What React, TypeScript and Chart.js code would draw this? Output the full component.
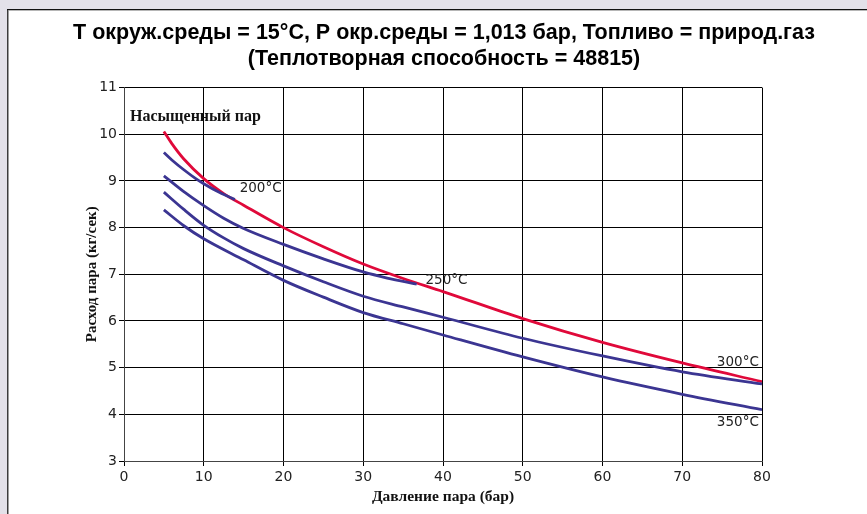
import React, { useEffect, useRef } from "react";
import { Chart, registerables } from "chart.js";

Chart.register(...registerables);

const titleLines = [
  "T окруж.среды = 15°C, P окр.среды = 1,013 бар, Топливо = природ.газ",
  "(Теплотворная способность = 48815)",
];
const xAxisTitle = "Давление пара (бар)";
const yAxisTitle = "Расход пара (кг/сек)";

const saturatedX = [5, 6, 7.5, 10, 12.5, 15, 20, 25, 30, 35, 40, 50, 60, 70, 80];
const saturatedY = [10.06, 9.8, 9.47, 9.05, 8.73, 8.48, 8.0, 7.59, 7.22, 6.91, 6.63, 6.05, 5.54, 5.1, 4.7];

const t200X = [5, 6, 7.5, 9, 10, 12, 13.9];
const t200Y = [9.61, 9.45, 9.24, 9.05, 8.94, 8.75, 8.6];

const t250X = [5, 7.5, 10, 12.5, 15, 20, 25, 30, 33, 36.7];
const t250Y = [9.11, 8.77, 8.47, 8.2, 7.98, 7.64, 7.33, 7.05, 6.92, 6.79];

const t300X = [5, 7.5, 10, 12.5, 15, 20, 25, 30, 35, 40, 50, 60, 70, 80];
const t300Y = [8.76, 8.39, 8.05, 7.78, 7.55, 7.18, 6.84, 6.53, 6.3, 6.08, 5.63, 5.25, 4.91, 4.65];

const t350X = [5, 7.5, 10, 15, 20, 25, 30, 35, 40, 50, 60, 70, 80];
const t350Y = [8.38, 8.04, 7.76, 7.31, 6.87, 6.51, 6.18, 5.94, 5.7, 5.23, 4.8, 4.43, 4.1];

const annotationTexts = ["Насыщенный пар", "200°C", "250°C", "300°C", "350°C"];
const annotationX = [0.75, 14.5, 37.8, 79.6, 79.6];
const annotationY = [10.38, 8.84, 6.86, 5.12, 3.83];

const RED = "#e0093a";
const BLUE = "#3b3592";

const toPoints = (xs: number[], ys: number[]) => xs.map((x, i) => ({ x, y: ys[i] }));

const framePlugin = {
  id: "frame",
  beforeDraw(chart: any) {
    const { ctx, width, height } = chart;
    ctx.save();
    ctx.fillStyle = "#e3e1e9";
    ctx.fillRect(0, 0, width, height);
    ctx.fillStyle = "#ffffff";
    ctx.fillRect(8, 10, width - 8, height - 10);
    ctx.fillStyle = "#3c3c3c";
    ctx.fillRect(7, 9, 1.5, height - 9);
    ctx.fillStyle = "#111111";
    ctx.fillRect(7, 9, width - 7, 1.2);
    ctx.fillStyle = "#b0b0b0";
    ctx.fillRect(8.5, 10.2, width - 8.5, 0.8);
    ctx.restore();
  },
};

const annotationPlugin = {
  id: "curveLabels",
  afterDatasetsDraw(chart: any) {
    const { ctx, scales } = chart;
    ctx.save();
    ctx.textBaseline = "middle";
    annotationTexts.forEach((t, i) => {
      const px = scales.x.getPixelForValue(annotationX[i]);
      const py = scales.y.getPixelForValue(annotationY[i]);
      if (i === 0) {
        ctx.font = "bold 16px 'Liberation Serif'";
        ctx.fillStyle = "#111";
      } else {
        ctx.font = "13.5px 'DejaVu Sans'";
        ctx.fillStyle = "#222";
      }
      ctx.textAlign = i >= 3 ? "right" : "left";
      ctx.fillText(t, px, py);
    });
    ctx.restore();
  },
};

export default function App() {
  const canvasRef = useRef<HTMLCanvasElement | null>(null);

  useEffect(() => {
    if (!canvasRef.current) return;
    const lineDs = (label: string, xs: number[], ys: number[], color: string) => ({
      label,
      data: toPoints(xs, ys),
      borderColor: color,
      backgroundColor: color,
      borderWidth: 2.8,
      pointRadius: 0,
      showLine: true,
      fill: false,
      cubicInterpolationMode: "monotone" as const,
    });
    const chart = new Chart(canvasRef.current, {
      type: "scatter",
      data: {
        datasets: [
          lineDs("200°C", t200X, t200Y, BLUE),
          lineDs("250°C", t250X, t250Y, BLUE),
          lineDs("300°C", t300X, t300Y, BLUE),
          lineDs("350°C", t350X, t350Y, BLUE),
          lineDs("Насыщенный пар", saturatedX, saturatedY, RED),
        ],
      },
      options: {
        animation: false,
        responsive: false,
        devicePixelRatio: 1,
        layout: { padding: { left: 21, right: 0, top: 0, bottom: 0 } },
        plugins: {
          legend: { display: false },
          tooltip: { enabled: false },
          title: {
            display: true,
            text: titleLines,
            color: "#000",
            font: { family: "'Liberation Sans', Arial", weight: "bold", size: 21.5, lineHeight: 1.2 },
            padding: { top: 20, bottom: 16 },
          },
        },
        scales: {
          x: {
            type: "linear",
            min: 0,
            max: 80,
            ticks: {
              stepSize: 10,
              color: "#222",
              padding: 3,
              font: { family: "'DejaVu Sans'", size: 14 },
            },
            grid: { color: "#000", lineWidth: 1, tickLength: 5, drawTicks: true },
            border: { color: "#444", width: 1 },
            title: {
              display: true,
              text: xAxisTitle,
              color: "#111",
              font: { family: "'Liberation Serif'", weight: "bold", size: 15.5 },
              padding: { top: 0, bottom: 8 },
            },
            afterFit: (s: any) => {
              s.height = 53;
            },
          },
          y: {
            type: "linear",
            min: 3,
            max: 11,
            ticks: {
              stepSize: 1,
              color: "#222",
              padding: 2,
              font: { family: "'DejaVu Sans'", size: 14 },
            },
            grid: { color: "#000", lineWidth: 1, tickLength: 5, drawTicks: true },
            border: { color: "#444", width: 1 },
            title: {
              display: true,
              text: yAxisTitle,
              color: "#111",
              font: { family: "'Liberation Serif'", weight: "bold", size: 15 },
              padding: { top: 62, bottom: 0 },
            },
            afterFit: (s: any) => {
              s.width = 103;
            },
          },
          yRight: {
            type: "linear",
            position: "right",
            display: true,
            min: 3,
            max: 11,
            ticks: { display: false },
            grid: { display: false, drawTicks: false },
            border: { display: false },
            afterFit: (s: any) => {
              s.width = 105;
            },
          },
        },
      },
      plugins: [framePlugin, annotationPlugin],
    });
    return () => chart.destroy();
  }, []);

  return (
    <div style={{ position: "fixed", left: 0, top: 0, width: 867, height: 514 }}>
      <canvas ref={canvasRef} width={867} height={514} style={{ width: 867, height: 514, display: "block" }} />
    </div>
  );
}
